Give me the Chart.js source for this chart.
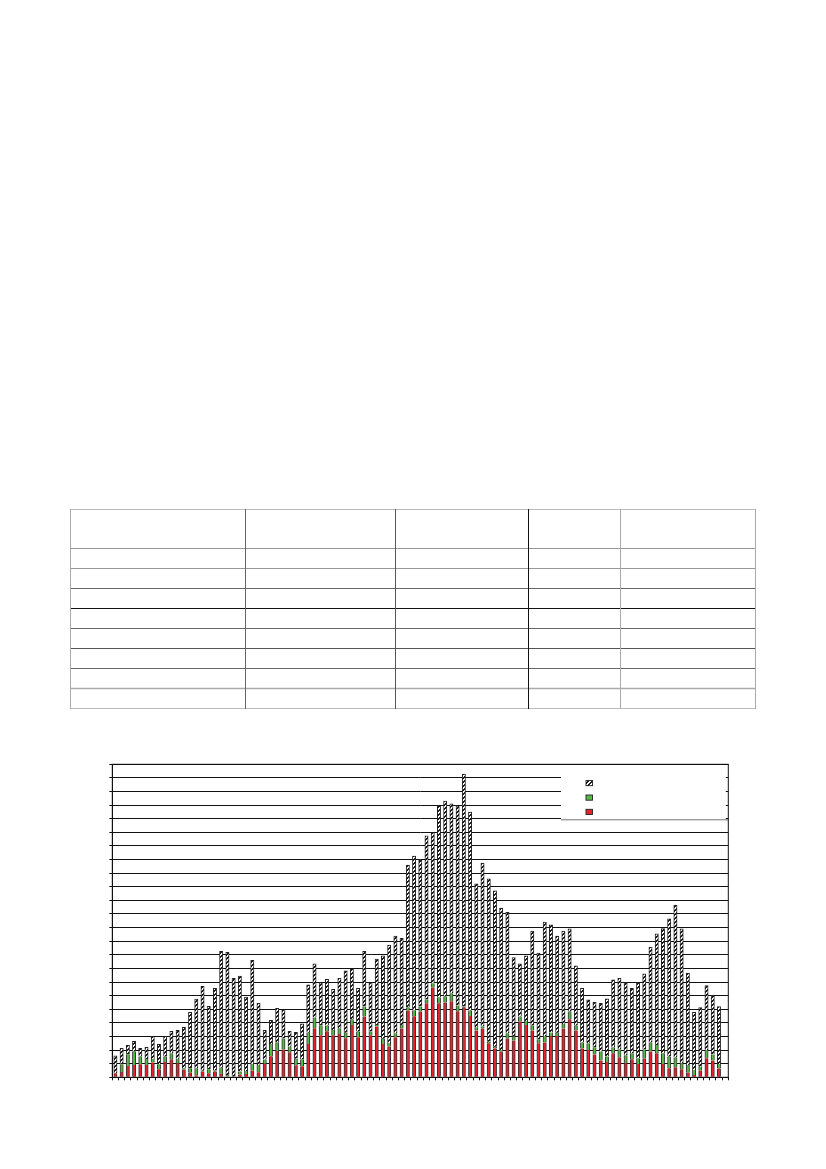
<!DOCTYPE html>
<html>
<head>
<meta charset="utf-8">
<script src="https://cdn.jsdelivr.net/npm/chart.js@4/dist/chart.umd.min.js"></script>
<style>
  html, body { margin: 0; padding: 0; background: #fff; }
  body { width: 826px; height: 1169px; position: relative; overflow: hidden; }
  #tbl { position: absolute; left: 0; top: 0; }
  #wrap { position: absolute; left: 0; top: 740px; width: 826px; height: 360px; }
</style>
</head>
<body>
<svg id="tbl" width="826" height="760" xmlns="http://www.w3.org/2000/svg">
  <g stroke-width="1" fill="none">
    <line x1="70" y1="509.5" x2="756" y2="509.5" stroke="#bbb"/>
    <line x1="70" y1="548.5" x2="756" y2="548.5" stroke="#999"/>
    <line x1="70" y1="568.5" x2="756" y2="568.5" stroke="#999"/>
    <line x1="70" y1="588.5" x2="756" y2="588.5" stroke="#666"/>
    <line x1="70" y1="608.5" x2="756" y2="608.5" stroke="#111"/>
    <line x1="70" y1="628.5" x2="756" y2="628.5" stroke="#666"/>
    <line x1="70" y1="648.5" x2="756" y2="648.5" stroke="#555"/>
    <line x1="70" y1="668.5" x2="756" y2="668.5" stroke="#666"/>
    <line x1="70" y1="688.5" x2="756" y2="688.5" stroke="#aaa" stroke-width="1.5"/>
    <line x1="70" y1="708.5" x2="756" y2="708.5" stroke="#bbb"/>
    <line x1="70.5" y1="509" x2="70.5" y2="709" stroke="#aaa"/>
    <line x1="245.5" y1="509" x2="245.5" y2="709" stroke="#666"/>
    <line x1="395.5" y1="509" x2="395.5" y2="709" stroke="#555"/>
    <line x1="528.5" y1="509" x2="528.5" y2="709" stroke="#111"/>
    <line x1="620.5" y1="509" x2="620.5" y2="709" stroke="#aaa"/>
    <line x1="755.5" y1="509" x2="755.5" y2="709" stroke="#aaa"/>
  </g>
</svg>
<div id="wrap"><canvas id="c" width="826" height="360"></canvas></div>
<script>
// ---- data (segment heights, in gridline units) ----
const categories = ["1","2","3","4","5","6","7","8","9","10","11","12","13","14","15","16","17","18","19","20",
  "21","22","23","24","25","26","27","28","29","30","31","32","33","34","35","36","37","38","39","40",
  "41","42","43","44","45","46","47","48","49","50","51","52","53","54","55","56","57","58","59","60",
  "61","62","63","64","65","66","67","68","69","70","71","72","73","74","75","76","77","78","79","80",
  "81","82","83","84","85","86","87","88","89","90","91","92","93","94","95","96","97","98","99"];

const redValues = [0.30,0.39,0.83,0.91,0.96,0.91,1.08,0.59,1.13,1.32,
  1.03,0.56,0.34,0.15,0.42,0.29,0.42,0.25,0.05,0.05,
  0.20,0.25,0.49,0.37,1.00,1.54,1.94,2.05,1.84,0.88,
  0.81,2.45,3.60,3.09,3.38,3.09,3.19,2.87,3.85,2.94,
  4.46,3.09,3.73,2.45,2.25,2.94,3.58,4.90,4.48,4.83,
  5.44,6.59,5.44,5.49,5.59,4.85,5.15,4.51,3.43,3.58,
  2.50,2.11,1.89,2.84,2.70,4.09,3.85,3.43,2.50,2.55,
  2.99,3.04,3.58,4.26,3.43,2.11,2.01,1.67,1.23,1.13,
  1.76,1.47,1.03,1.32,0.98,1.37,1.89,1.76,0.98,0.66,
  0.74,0.59,0.34,0.17,0.49,1.40,1.23,0.64,null];

const greenValues = [0.00,0.57,0.86,0.98,0.56,0.44,0.27,0.37,0.39,0.44,
  0.34,0.10,0.32,0.51,0.07,0.30,0.08,0.46,0.12,0.00,
  0.22,0.22,0.49,0.54,0.30,0.91,0.63,0.80,0.41,0.49,
  0.51,0.83,0.80,0.73,0.42,0.39,0.41,0.41,0.41,0.42,
  0.74,0.27,0.12,0.39,0.27,0.30,0.27,0.25,0.45,0.37,
  0.30,0.32,0.44,0.44,0.59,0.42,0.05,0.39,0.25,0.15,
  0.12,0.14,0.12,0.40,0.29,0.37,0.29,0.37,0.29,0.49,
  0.29,0.24,0.34,0.57,0.37,0.44,0.49,0.53,0.66,0.39,
  0.44,0.59,0.59,0.44,0.42,0.69,0.66,0.62,0.78,0.86,
  0.71,0.44,0.57,0.37,0.29,0.61,0.44,0.34,null];

const otherValues = [1.27,1.17,0.66,0.76,0.61,0.85,1.66,1.47,1.49,1.62,
  2.09,3.02,4.12,5.08,6.20,4.63,6.04,8.55,9.02,7.23,
  7.01,5.43,7.62,4.53,2.16,1.74,2.50,2.13,1.13,1.94,
  2.60,3.51,3.93,3.14,3.40,2.99,3.68,4.54,3.71,3.18,
  4.06,3.60,4.83,6.08,7.19,7.13,6.37,10.44,11.32,10.75,
  12.01,11.08,14.07,14.36,13.92,14.68,17.08,14.59,10.54,12.01,
  11.96,11.45,10.42,8.89,5.81,3.87,4.78,6.94,6.33,8.36,
  7.92,7.09,6.82,6.08,4.39,3.99,3.19,3.31,3.55,4.24,
  4.96,5.22,5.34,4.78,5.56,5.54,7.01,8.16,9.17,10.12,
  11.20,9.88,6.74,4.24,4.34,4.73,4.36,4.22,null];

const yMin = 0, yMax = 23, yStep = 1;

// ---- hatch pattern ----
function makeHatch() {
  const p = document.createElement('canvas');
  p.width = 4; p.height = 4;
  const g = p.getContext('2d');
  g.fillStyle = '#ffffff'; g.fillRect(0, 0, 4, 4);
  g.fillStyle = '#1a1a1a';
  for (let x = 0; x < 4; x++) for (let y = 0; y < 4; y++) {
    if ((x + y) % 4 === 0 || (x + y) % 4 === 1) g.fillRect(x, y, 1, 1);
  }
  return document.getElementById('c').getContext('2d').createPattern(p, 'repeat');
}
const hatch = makeHatch();
const RED = '#E8212B', GREEN = '#58B947';

const legendBox = {
  id: 'legendBox',
  beforeDatasetsDraw(chart) {
    const ctx = chart.ctx, a = chart.chartArea;
    const x0 = 561, x1 = a.right - 2.5, y0 = a.top + 0.8, y1 = 819.3 - 740;
    ctx.save();
    ctx.fillStyle = '#fff';
    ctx.fillRect(x0, y0, x1 - x0, y1 - y0);
    ctx.strokeStyle = '#777'; ctx.lineWidth = 1;
    ctx.beginPath(); ctx.moveTo(x0, y1 + 0.5); ctx.lineTo(a.right, y1 + 0.5); ctx.stroke();
    const fills = [hatch, GREEN, RED];
    const ys = [780.5, 795, 809.3];
    fills.forEach((f, i) => {
      ctx.fillStyle = f;
      ctx.fillRect(586, ys[i] - 740, 6.5, 5.2);
      ctx.strokeStyle = '#222'; ctx.lineWidth = 0.9;
      ctx.strokeRect(586, ys[i] - 740, 6.5, 5.2);
    });
    ctx.restore();
  },
  afterDraw(chart) {
    const ctx = chart.ctx, a = chart.chartArea;
    ctx.save();
    ctx.strokeStyle = '#111'; ctx.lineWidth = 1;
    ctx.strokeRect(a.left, a.top, a.right - a.left, a.bottom - a.top);
    ctx.restore();
  }
};

const sideBorder = { left: 1, right: 1, top: 0, bottom: 0 };
new Chart(document.getElementById('c'), {
  type: 'bar',
  data: {
    labels: categories,
    datasets: [
      { label: '', data: redValues, backgroundColor: RED, borderColor: '#333', borderWidth: sideBorder, borderSkipped: false, stack: 's' },
      { label: '', data: greenValues, backgroundColor: GREEN, borderColor: '#333', borderWidth: sideBorder, borderSkipped: false, stack: 's' },
      { label: '', data: otherValues, backgroundColor: hatch, borderColor: '#222', borderWidth: { left: 1, right: 1, top: 1, bottom: 0 }, borderSkipped: false, stack: 's' }
    ]
  },
  options: {
    responsive: false,
    animation: false,
    devicePixelRatio: 1,
    datasets: { bar: { barThickness: 3.3 } },
    layout: { padding: { left: 109.3, right: 97.7, top: 24.3, bottom: 19.7 } },
    plugins: { legend: { display: false }, tooltip: { enabled: false } },
    scales: {
      x: {
        stacked: true,
        grid: { display: true, drawOnChartArea: false, drawTicks: true, tickLength: 3, color: '#111', offset: true },
        border: { display: true, color: '#111', width: 1 },
        ticks: { display: false, autoSkip: false },
        afterFit(s) { s.height = 3; }
      },
      y: {
        stacked: true,
        min: yMin, max: yMax,
        grid: { color: '#111', lineWidth: 1, drawTicks: true, tickLength: 3 },
        border: { display: true, color: '#111', width: 1 },
        ticks: { display: false, stepSize: yStep },
        afterFit(s) { s.width = 3; }
      }
    }
  },
  plugins: [legendBox]
});
</script>
</body>
</html>
